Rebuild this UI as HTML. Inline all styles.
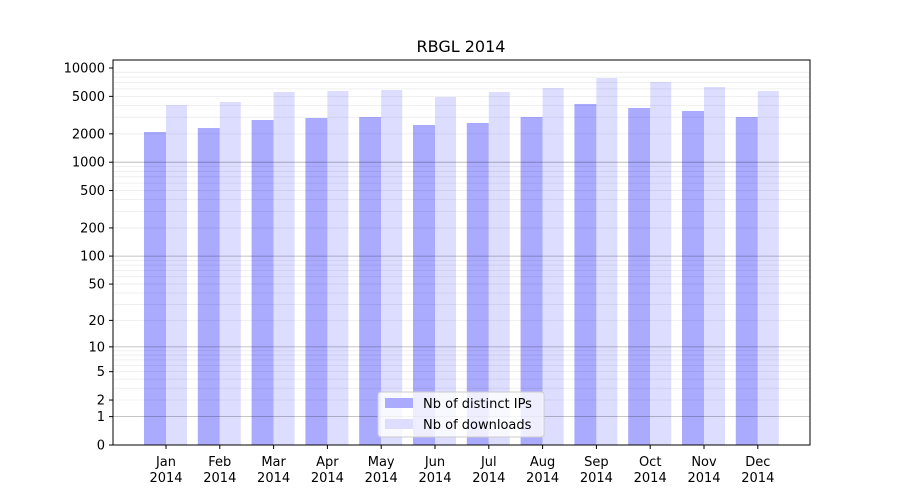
<!DOCTYPE html>
<html><head><meta charset="utf-8"><style>
body{margin:0;background:#fff;}
svg{display:block;font-family:"DejaVu Sans","Liberation Sans",sans-serif;}
</style></head><body>
<svg id="s" width="900" height="500" xmlns="http://www.w3.org/2000/svg">
<rect width="900" height="500" fill="#fff"/>
<g id="bars"></g>
<g id="grid"></g>
<rect x="113" y="60" width="697" height="385" fill="none" stroke="#000" stroke-width="1"/>
<g id="ticks" font-size="13" fill="#000"></g>
<text x="461" y="52" font-size="16" text-anchor="middle">RBGL 2014</text>
<g>
<rect x="378" y="392" width="166" height="45" rx="3" fill="#fff" fill-opacity="0.8" stroke="#ccc"/>
<rect x="385" y="398" width="28" height="10" fill="#aaaaff"/>
<text x="423" y="408" font-size="13">Nb of distinct IPs</text>
<rect x="385" y="419" width="28" height="10" fill="#ddddff"/>
<text x="423" y="429" font-size="13">Nb of downloads</text>
</g>
</svg>
<script>
var ns="http://www.w3.org/2000/svg";
function Y(v){return 445-94.25*Math.log10(1+v);}
function el(p,t,a,txt){var e=document.createElementNS(ns,t);for(var k in a)e.setAttribute(k,a[k]);if(txt!==undefined)e.textContent=txt;document.getElementById(p).appendChild(e);}
for(var d=1;d<=1000;d*=10){for(var m=1;m<10;m++){var v=d*m,y=Y(v);
el("grid","line",{x1:113,x2:810,y1:y,y2:y,stroke:"#000","stroke-opacity":m==1?0.3:0.08,"stroke-width":0.8});}}
var ipT=[132,128,120,118,117,125,123,117,104,108,111,117];
var dlT=[105,102,92,91,90,97,92,88,78,82,87,91];
var mo=["Jan","Feb","Mar","Apr","May","Jun","Jul","Aug","Sep","Oct","Nov","Dec"];
for(var i=0;i<12;i++){var c=166+i*53.8;
el("bars","rect",{x:c-22,y:ipT[i],width:22,height:445-ipT[i],fill:"#aaaaff"});
el("bars","rect",{x:c,y:dlT[i],width:21,height:445-dlT[i],fill:"#ddddff"});
el("ticks","line",{x1:c,x2:c,y1:445,y2:449,stroke:"#000"});
el("ticks","text",{x:c,y:466,"text-anchor":"middle"},mo[i]);
el("ticks","text",{x:c,y:482,"text-anchor":"middle"},"2014");}
[0,1,2,5,10,20,50,100,200,500,1000,2000,5000,10000].forEach(function(v){var y=Y(v);
el("ticks","line",{x1:109,x2:113,y1:y,y2:y,stroke:"#000"});
el("ticks","text",{x:105,y:y+4.5,"text-anchor":"end"},String(v));});
</script>
</body></html>
